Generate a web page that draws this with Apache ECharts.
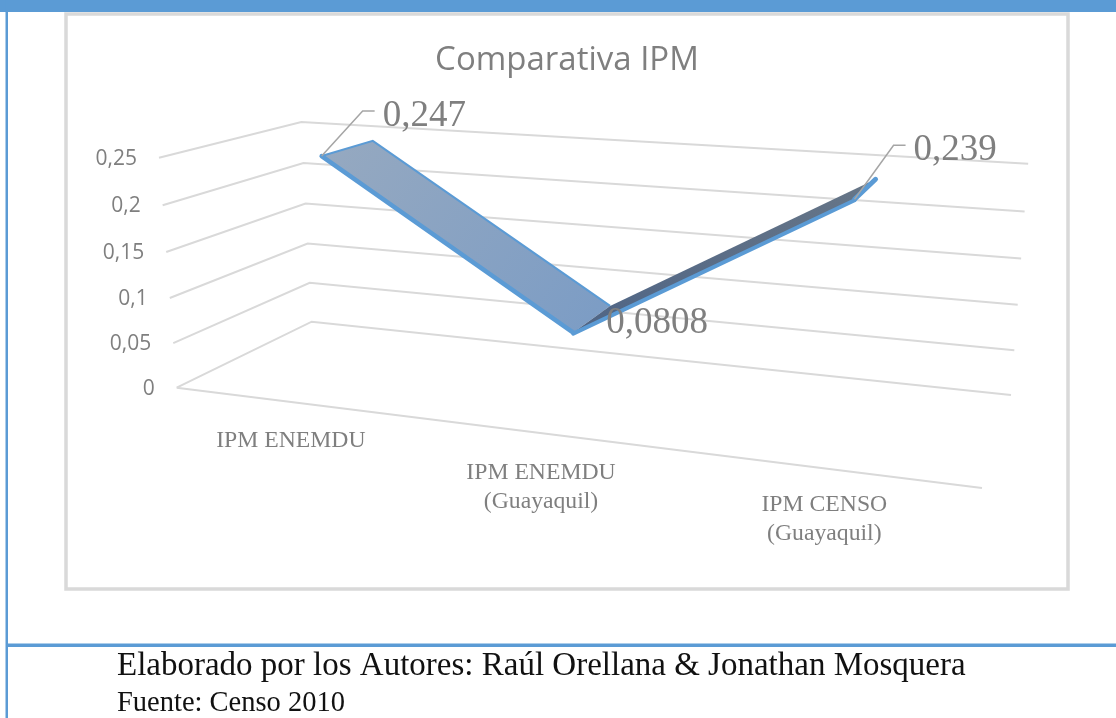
<!DOCTYPE html>
<html><head><meta charset="utf-8">
<style>html,body{margin:0;padding:0;background:#fff}#c{width:1116px;height:718px}</style>
<script src="https://cdn.jsdelivr.net/npm/echarts@6/dist/echarts.min.js"></script>
</head><body><div id="c"></div>
<script>
const chartTitle = 'Comparativa IPM';
const categories = ['IPM ENEMDU', 'IPM ENEMDU\n(Guayaquil)', 'IPM CENSO\n(Guayaquil)'];
const ipmValues = [0.247, 0.0808, 0.239];
const valueLabels = ['0,247', '0,0808', '0,239'];
const yTicks = [0, 0.05, 0.1, 0.15, 0.2, 0.25];
const yTickLabels = ['0', '0,05', '0,1', '0,15', '0,2', '0,25'];
const footerLines = ['Elaborado por los Autores: Raúl Orellana & Jonathan Mosquera', 'Fuente: Censo 2010'];

/* Perspective camera of the 3D plot: floor quad plus wall-top anchors */
const Q = [[176.7,387.7],[982,488],[1011,395],[311.7,321.7]];
const TOP = [[158.7,160,0,0],[301.7,122.3,0,1],[1028,161,1,1]];
const G1 = -0.04;
function makeProjection(){
  const [p0,p1,p2,p3]=Q;
  const dx1=p1[0]-p2[0],dx2=p3[0]-p2[0],sx=p0[0]-p1[0]+p2[0]-p3[0];
  const dy1=p1[1]-p2[1],dy2=p3[1]-p2[1],sy=p0[1]-p1[1]+p2[1]-p3[1];
  const den=dx1*dy2-dx2*dy1;
  const g=(sx*dy2-dx2*sy)/den,h=(dx1*sy-sx*dy1)/den;
  const a=p1[0]-p0[0]+g*p1[0],b=p3[0]-p0[0]+h*p3[0],c=p0[0];
  const d=p1[1]-p0[1]+g*p1[1],e=p3[1]-p0[1]+h*p3[1],f=p0[1];
  let ex=0,ey=0;
  TOP.forEach(([X,Y,u,z])=>{
    const w=g*u+h*z+1;
    ex+=X*(w+G1)-(a*u+b*z+c);
    ey+=Y*(w+G1)-(d*u+e*z+f);
  });
  ex/=TOP.length;ey/=TOP.length;
  return (u,z,t)=>{
    const w=g*u+h*z+1+G1*t;
    return [(a*u+b*z+c+ex*t)/w,(d*u+e*z+f+ey*t)/w];
  };
}
const project=makeProjection();
const Z_FRONT=0.30,Z_BACK=0.70;

/* axis coordinates → unit box, through the hidden cartesian scales */
function unit(api,params,i,v){
  const cs=params.coordSys,pt=api.coord([i,v]);
  return [(pt[0]-cs.x)/cs.width,(cs.y+cs.height-pt[1])/cs.height];
}
const GREY='#7f7f7f',GRID='#d9d9d9',BLUE='#5b9bd5',LEAD='#a5a5a5';
const SANS='"Open Sans"',SERIF='"Liberation Serif"';
function txt(x,y,text,font,align,base,fill){
  return {type:'text',x:x,y:y,style:{text:text,font:font,fill:fill||GREY,textAlign:align,textVerticalAlign:base,align:align,verticalAlign:base,lineHeight:29}};
}

const option={
  animation:false,
  backgroundColor:'#fff',
  title:{text:chartTitle,left:562,top:39,textAlign:'center',textStyle:{fontFamily:SANS,fontSize:33,fontWeight:'normal',color:GREY}},
  grid:{left:100,right:100,top:100,bottom:100},
  xAxis:{type:'category',data:categories,show:false,boundaryGap:true},
  yAxis:{type:'value',min:0,max:0.25,interval:0.05,show:false},
  graphic:[
    {type:'rect',z:0,shape:{x:0,y:0,width:1116,height:12},style:{fill:BLUE}},
    {type:'rect',z:0,shape:{x:5.5,y:0,width:2.5,height:718},style:{fill:BLUE}},
    {type:'rect',z:0,shape:{x:6,y:643.5,width:1110,height:3.5},style:{fill:BLUE}},
    {type:'rect',z:0,shape:{x:66,y:14,width:1002,height:575},style:{fill:'#fff',stroke:GRID,lineWidth:3.5}},
    {type:'text',z:5,x:117,y:683,style:{text:footerLines[0],font:'33px '+SERIF,fill:'#111',textVerticalAlign:'bottom',verticalAlign:'bottom'}},
    {type:'text',z:5,x:117,y:718,style:{text:footerLines[1],font:'28.5px '+SERIF,fill:'#111',textVerticalAlign:'bottom',verticalAlign:'bottom'}}
  ],
  series:[
    { /* walls and floor */
      type:'custom',coordinateSystem:'cartesian2d',z:2,silent:true,
      data:yTicks.map(v=>[0,v]),
      renderItem(params,api){
        const i=params.dataIndex,[,t]=unit(api,params,0,api.value(1));
        const f=project(0,0,t),b=project(0,1,t),r=project(1,1,t);
        const children=[
          {type:'polyline',shape:{points:[f,b,r]},style:{stroke:GRID,lineWidth:2,fill:null}},
          txt(f[0]-22,f[1]+1,yTickLabels[i],'21px '+SANS,'right','middle')
        ];
        if(i===0) children.push({type:'line',shape:{x1:f[0],y1:f[1],x2:project(1,0,0)[0],y2:project(1,0,0)[1]},style:{stroke:GRID,lineWidth:2}});
        return {type:'group',children};
      }
    },
    { /* ribbon */
      type:'custom',coordinateSystem:'cartesian2d',z:3,silent:true,
      data:ipmValues.map((v,i)=>[i,v]),
      renderItem(params,api){
        const i=params.dataIndex;
        if(i>=ipmValues.length-1) return {type:'group',children:[]};
        const a=unit(api,params,i,api.value(1)),b=unit(api,params,i+1,ipmValues[i+1]);
        const af=project(a[0],Z_FRONT,a[1]),ab=project(a[0],Z_BACK,a[1]);
        const bf=project(b[0],Z_FRONT,b[1]),bb=project(b[0],Z_BACK,b[1]);
        const first=i===0;
        const fill=first
          ?{type:'linear',x:0,y:0,x2:1,y2:1,colorStops:[{offset:0,color:'#96a9c0'},{offset:1,color:'#7b9cc5'}]}
          :{type:'linear',x:0,y:1,x2:1,y2:0,colorStops:[{offset:0,color:'#4f6586'},{offset:1,color:'#677687'}]};
        const ch=[{type:'polygon',shape:{points:[af,ab,bb,bf]},style:{fill:fill,stroke:null}}];
        if(first){
          ch.push({type:'polyline',shape:{points:[af,ab,bb]},style:{stroke:BLUE,lineWidth:2,fill:null}});
        } else {
          ch.push({type:'polyline',shape:{points:[bb,bf]},style:{stroke:BLUE,lineWidth:5,fill:null,lineCap:'round'}});
        }
        ch.push({type:'line',shape:{x1:af[0],y1:af[1]+(first?0:1),x2:bf[0],y2:bf[1]+(first?0:1)},style:{stroke:BLUE,lineWidth:first?4.5:4,lineCap:'round'}});
        return {type:'group',children:ch};
      }
    },
    { /* category labels, value labels, leader lines */
      type:'custom',coordinateSystem:'cartesian2d',z:4,silent:true,
      data:ipmValues.map((v,i)=>[i,v]),
      renderItem(params,api){
        const i=params.dataIndex;
        const a=unit(api,params,i,api.value(1));
        const p=project(a[0],Z_FRONT,a[1]),base=project(a[0],0,0);
        const ch=[txt(base[0]+[-1,-2,-2][i],base[1]+[24,25,22][i],categories[i],'23.7px '+SERIF,'center','top')];
        const vfont='37px '+SERIF;
        if(i===1){
          ch.push(txt(p[0]+33,p[1]+5,valueLabels[i],vfont,'left','bottom'));
        } else {
          const elbow=i===0?[p[0]+41,p[1]-45]:[p[0]+39,p[1]-54];
          const end=[elbow[0]+12,elbow[1]];
          ch.push({type:'polyline',shape:{points:[p,elbow,end]},style:{stroke:LEAD,lineWidth:1.5,fill:null}});
          ch.push(txt(end[0]+8,elbow[1]+20,valueLabels[i],vfont,'left','bottom'));
        }
        return {type:'group',children:ch};
      }
    }
  ]
};
echarts.init(document.getElementById('c'),null,{renderer:'canvas'}).setOption(option);
</script></body></html>
